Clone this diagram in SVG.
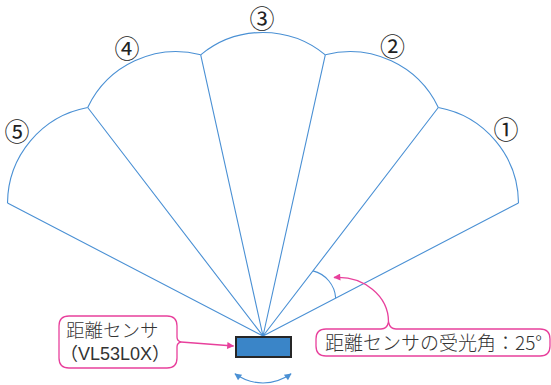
<svg xmlns="http://www.w3.org/2000/svg" width="551" height="385" viewBox="0 0 551 385">
  <style>
    .fan { fill: none; stroke: #4a90d4; stroke-width: 1.1; }
    .pink { fill: none; stroke: #e8409c; stroke-width: 1.3; }
    .lbl { font-family: "Noto Sans CJK JP", "Liberation Sans", sans-serif; fill: #333; font-weight: 300; }
    .lat { font-family: "Liberation Sans", "Noto Sans CJK JP", sans-serif; fill: #333; }
    .num { font-family: "Noto Sans CJK JP", "DejaVu Sans", sans-serif; fill: #222; font-size: 25px; text-anchor: middle; }
  </style>
  <defs>
    <marker id="pinkArrow" viewBox="0 0 10 10" refX="9" refY="5" markerWidth="9" markerHeight="7" markerUnits="userSpaceOnUse" orient="auto">
      <path d="M0,0 L10,5 L0,10 Z" fill="#e8409c"/>
    </marker>
    <marker id="blueArrow" viewBox="0 0 10 10" refX="9" refY="5" markerWidth="9" markerHeight="7" markerUnits="userSpaceOnUse" orient="auto-start-reverse">
      <path d="M0,0 L10,5 L0,10 Z" fill="#4a90d4"/>
    </marker>
  </defs>

  <g id="sectors">
    <g id="sector5"><path class="fan" d="M7.5,203 A98,98 0 0 1 87.7,107.5"/></g>
    <g id="sector4"><path class="fan" d="M87.7,107.5 A98,98 0 0 1 200.7,54.8"/></g>
    <g id="sector3"><path class="fan" d="M200.7,54.8 A98,98 0 0 1 325.3,54.8"/></g>
    <g id="sector2"><path class="fan" d="M325.3,54.8 A98,98 0 0 1 438.3,107.5"/></g>
    <g id="sector1"><path class="fan" d="M438.3,107.5 A98,98 0 0 1 518.5,203"/></g>
  </g>

  <g id="connectors">
    <path class="fan" d="M263,336 L7.5,203 M263,336 L87.7,107.5 M263,336 L200.7,54.8 M263,336 L325.3,54.8 M263,336 L438.3,107.5 M263,336 L518.5,203"/>
    <path id="angle-arc" class="fan" d="M312.9,270.9 A30,30 0 0 1 335.7,298.1"/>
    <path id="rotation-arc" class="fan" stroke-width="1.3" d="M235,373.8 A47.5,47.5 0 0 0 291,373.8" marker-start="url(#blueArrow)" marker-end="url(#blueArrow)"/>
    <path id="sensor-pointer" class="pink" d="M181,342 L233.5,346" marker-end="url(#pinkArrow)"/>
    <path id="angle-pointer" class="pink" d="M388.5,322 A50.5,44.5 0 0 0 334,277.5" marker-end="url(#pinkArrow)"/>
  </g>

  <g id="labels">
    <text class="num" x="262" y="27.5">③</text>
    <text class="num" x="127" y="57.5">④</text>
    <text class="num" x="17" y="141">⑤</text>
    <text class="num" x="392.5" y="56">②</text>
    <text class="num" x="506" y="138.5">①</text>
  </g>

  <g id="sensor">
    <rect x="236" y="337" width="55" height="20" fill="#3a85c8" stroke="#262626" stroke-width="2"/>
  </g>

  <g id="callout-sensor">
    <path class="pink" fill="#fff" d="M69,316 H167 Q177,316 177,326 V337 Q177,341 181,342 Q177,343 177,347 V358 Q177,368 167,368 H69 Q59,368 59,358 V326 Q59,316 69,316 Z"/>
    <text class="lbl" x="66" y="336.5" font-size="18.5">距離センサ</text>
    <text class="lat" x="60" y="359.5" font-size="18">（VL53L0X）</text>
  </g>

  <g id="callout-angle">
    <path class="pink" fill="#fff" d="M326,329 H381 Q387,329 388.5,322 Q390,329 396,329 H540 Q550,329 550,339 V346 Q550,356 540,356 H326 Q316,356 316,346 V339 Q316,329 326,329 Z"/>
    <text class="lbl" x="325" y="350" font-size="19">距離センサの受光角：25°</text>
  </g>
</svg>
